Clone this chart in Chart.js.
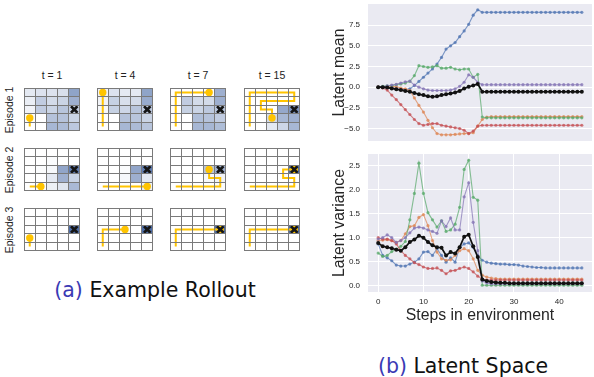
<!DOCTYPE html>
<html><head><meta charset="utf-8">
<script src="https://cdn.jsdelivr.net/npm/chart.js@4.4.1/dist/chart.umd.min.js"></script>
<style>
html,body{margin:0;padding:0;background:#fff;width:594px;height:377px;overflow:hidden;position:relative}
canvas{position:absolute}
.lbl{position:absolute;white-space:nowrap;line-height:1;color:#222;font-family:'Liberation Sans',Arial,sans-serif}
.cap{position:absolute;white-space:nowrap;line-height:1;color:#111;font-family:'DejaVu Sans',sans-serif;font-size:20.5px;transform:translateX(-50%)}
.cap span{color:#3a3ab4}
</style></head><body>
<div class="cap" style="left:155px;top:280px"><span>(a)</span> Example Rollout</div>
<div class="cap" style="left:463px;top:355.5px"><span>(b)</span> Latent Space</div>
<script>
// ---------- data: example rollout ----------
const timeLabels = ['t = 1', 't = 4', 't = 7', 't = 15'];
const episodeLabels = ['Episode 1', 'Episode 2', 'Episode 3'];
// belief intensity per cell (row-major, 5x5, top row first), one list per time step
const ep1Belief = [
  [.15,.2,.2,.22,.63, .12,.35,.25,.3,.55, .08,.35,.3,.4,.35, .02,0,.42,.42,.3, 0,0,.5,.47,.38],
  [.08,.2,.15,.15,.63, .08,.32,.22,.25,.58, .05,.32,.28,.4,.38, 0,0,.42,.4,.3, 0,0,.5,.47,.4],
  [0,0,0,0,.55, 0,.35,.25,.25,.55, 0,.32,.3,.38,.4, 0,0,.45,.42,.35, 0,0,.5,.5,.45],
  [0,0,0,0,0, 0,0,0,0,0, 0,0,0,.6,.75, 0,0,.25,.5,.55, 0,0,.15,.28,.5]
];
const ep2Belief = [
  [0,0,0,0,0, 0,0,.02,0,0, 0,.02,.05,.62,.9, 0,0,.15,.55,.3, 0,0,.1,.18,.48],
  [0,0,0,0,0, 0,0,0,0,0, 0,0,.02,.62,.9, 0,0,.05,.55,.15, 0,0,0,0,.1],
  [0,0,0,0,0, 0,0,0,0,0, 0,0,0,.4,.55, 0,0,0,.05,.08, 0,0,0,0,.03],
  [0,0,0,0,0, 0,0,0,0,0, 0,0,0,0,1, 0,0,0,0,0, 0,0,0,0,0]
];
const ep3Belief = [
  [0,0,0,0,0, 0,0,0,0,0, 0,0,0,0,1, 0,0,0,0,0, 0,0,0,0,0],
  [0,0,0,0,0, 0,0,0,0,0, 0,0,0,0,1, 0,0,0,0,0, 0,0,0,0,0],
  [0,0,0,0,0, 0,0,0,0,0, 0,0,0,0,1, 0,0,0,0,0, 0,0,0,0,0],
  [0,0,0,0,0, 0,0,0,0,0, 0,0,0,0,1, 0,0,0,0,0, 0,0,0,0,0]
];
// agent paths as [column, row] cells, last entry = agent position
const ep1Paths = [
  [[0,4],[0,3]],
  [[0,4],[0,0]],
  [[0,4],[0,0],[3,0]],
  [[0,4],[0,0],[4,0],[4,1],[1,1],[1,2],[2,2],[2,3]]
];
const ep2Paths = [
  [[0,4],[1,4]],
  [[0,4],[4,4]],
  [[0,4],[4,4],[4,3],[3,3],[3,2]],
  [[0,4],[4,4],[4,3],[3,3],[3,2],[4,2]]
];
const ep3Paths = [
  [[0,4],[0,3]],
  [[0,4],[0,2],[2,2]],
  [[0,4],[0,2],[4,2]],
  [[0,4],[0,2],[4,2]]
];
const goalCell = [4, 2];

// ---------- data: latent space ----------
const steps = [0,1,2,3,4,5,6,7,8,9,10,11,12,13,14,15,16,17,18,19,20,21,22,23,24,25,26,27,28,29,30,31,32,33,34,35,36,37,38,39,40,41,42,43,44,45];
const meanTicks = [-5, -2.5, 0, 2.5, 5, 7.5];
const meanTickLabels = ['\u22125.0', '\u22122.5', '0.0', '2.5', '5.0', '7.5'];
const varTicks = [0, 0.5, 1, 1.5, 2, 2.5];
const varTickLabels = ['0.0', '0.5', '1.0', '1.5', '2.0', '2.5'];
const stepTicks = [0, 10, 20, 30, 40];

const meanBlue = [0,0,-0.05,-0.1,-0.15,-0.25,-0.3,-0.2,0.2,0.7,
  1.2,1.7,2.2,2.8,3.6,4.6,5.0,5.4,6.1,6.8,
  7.6,8.7,9.35,9.05,9.05,9.05,9.05,9.05,9.05,9.05,
  9.05,9.05,9.05,9.05,9.05,9.05,9.05,9.05,9.05,9.05,
  9.05,9.05,9.05,9.05,9.05,9.05];
const meanOrange = [0,0,0.05,0.1,0.05,-0.1,-0.2,-0.4,-1.3,-2.2,
  -3.0,-4.0,-4.9,-5.6,-5.75,-5.75,-5.75,-5.7,-5.65,-5.6,
  -5.6,-5.5,-4.7,-3.9,-3.6,-3.55,-3.55,-3.55,-3.55,-3.55,
  -3.55,-3.55,-3.55,-3.55,-3.55,-3.55,-3.55,-3.55,-3.55,-3.55,
  -3.55,-3.55,-3.55,-3.55,-3.55,-3.55];
const meanGreen = [0,0.1,0.15,0.2,0.3,0.4,0.5,0.7,1.4,2.6,
  2.5,2.4,2.45,2.6,2.3,2.3,2.4,2.2,2.1,2.2,
  2.2,1.2,1.55,-3.6,-3.7,-3.7,-3.7,-3.7,-3.7,-3.7,
  -3.7,-3.7,-3.7,-3.7,-3.7,-3.7,-3.7,-3.7,-3.7,-3.7,
  -3.7,-3.7,-3.7,-3.7,-3.7,-3.7];
const meanRed = [0,-0.1,-0.35,-0.95,-1.5,-2.1,-2.7,-3.3,-3.9,-4.4,
  -4.6,-4.5,-4.4,-4.4,-4.6,-4.7,-4.8,-4.9,-5.0,-5.2,
  -5.6,-5.3,-4.7,-4.6,-4.6,-4.6,-4.6,-4.6,-4.6,-4.6,
  -4.6,-4.6,-4.6,-4.6,-4.6,-4.6,-4.6,-4.6,-4.6,-4.6,
  -4.6,-4.6,-4.6,-4.6,-4.6,-4.6];
const meanPurple = [0,0.05,0.15,0.25,0.35,0.5,0.65,0.75,0.25,0,
  -0.2,-0.35,-0.4,-0.4,-0.4,-0.4,-0.35,-0.2,0.1,0.6,
  1.5,1.2,0.6,0.3,0.3,0.3,0.3,0.3,0.3,0.3,
  0.3,0.3,0.3,0.3,0.3,0.3,0.3,0.3,0.3,0.3,
  0.3,0.3,0.3,0.3,0.3,0.3];
const meanBlack = [0,0,-0.05,-0.15,-0.25,-0.35,-0.45,-0.55,-0.7,-0.85,
  -0.95,-1.1,-1.15,-1.1,-0.95,-0.85,-0.75,-0.65,-0.45,-0.15,
  0.05,0.2,0.4,-0.55,-0.55,-0.55,-0.55,-0.55,-0.55,-0.55,
  -0.55,-0.55,-0.55,-0.55,-0.55,-0.55,-0.55,-0.55,-0.55,-0.55,
  -0.55,-0.55,-0.55,-0.55,-0.55,-0.55];

const varBlue = [0.87,0.63,0.58,0.52,0.43,0.41,0.41,0.45,0.49,0.56,
  0.7,0.71,0.63,0.77,0.63,0.49,0.58,0.49,0.8,0.87,
  0.89,0.8,0.63,0.53,0.49,0.47,0.46,0.45,0.45,0.44,
  0.44,0.43,0.41,0.4,0.39,0.38,0.38,0.37,0.37,0.37,
  0.37,0.37,0.37,0.37,0.37,0.37];
const varOrange = [0.94,0.95,0.96,0.94,0.9,0.94,1.08,1.23,1.25,1.42,
  1.48,1.25,0.94,0.7,0.56,0.53,0.54,0.63,0.73,0.77,
  0.73,0.56,0.32,0.22,0.18,0.16,0.15,0.14,0.14,0.14,
  0.14,0.14,0.14,0.14,0.14,0.14,0.14,0.14,0.14,0.14,
  0.14,0.14,0.14,0.14,0.14,0.14];
const varGreen = [0.68,0.61,0.63,0.71,0.76,0.82,0.92,1.37,1.92,2.55,
  1.92,1.52,1.37,1.22,1.35,1.13,1.16,1.28,1.63,2.42,
  2.61,1.84,1.78,0.01,0.01,0.01,0.01,0.01,0.01,0.01,
  0.01,0.01,0.01,0.01,0.01,0.01,0.01,0.01,0.01,0.01,
  0.01,0.01,0.01,0.01,0.01,0.01];
const varRed = [1.0,0.97,0.97,0.94,0.87,0.73,0.63,0.56,0.48,0.44,
  0.39,0.36,0.36,0.37,0.32,0.25,0.31,0.32,0.36,0.39,
  0.36,0.29,0.2,0.14,0.12,0.12,0.12,0.12,0.12,0.12,
  0.12,0.12,0.12,0.12,0.12,0.12,0.12,0.12,0.12,0.12,
  0.12,0.12,0.12,0.12,0.12,0.12];
const varPurple = [0.97,1.0,1.06,1.0,0.9,0.94,1.0,1.1,1.2,1.22,
  1.2,1.16,1.13,1.09,1.35,1.23,1.41,1.16,1.16,1.85,
  2.14,1.32,0.73,0.1,0.06,0.04,0.04,0.04,0.04,0.04,
  0.04,0.04,0.04,0.04,0.04,0.04,0.04,0.04,0.04,0.04,
  0.04,0.04,0.04,0.04,0.04,0.04];
const varBlack = [0.89,0.82,0.8,0.78,0.75,0.73,0.8,0.91,0.96,1.04,
  1.0,0.91,0.84,0.8,0.79,0.63,0.7,0.67,0.8,1.02,
  1.06,0.82,0.6,0.13,0.1,0.08,0.07,0.06,0.06,0.05,
  0.05,0.05,0.05,0.05,0.05,0.05,0.05,0.05,0.05,0.05,
  0.05,0.05,0.05,0.05,0.05,0.05];

// ---------- styles / layout ----------
const GOLD = '#ffc400';
const GRIDLINE = '#7a7a7a';
const colLefts = [18, 91, 164, 238];
const rowTops = [82, 142, 202];
const GW = 68, GH = 55;
const SERIES_COLORS = {blue:'76,114,176', orange:'221,132,82', green:'85,168,104', red:'196,78,82', purple:'129,114,179'};

function mkCanvas(left, top, w, h) {
  const c = document.createElement('canvas');
  c.width = w; c.height = h;
  c.style.left = left + 'px'; c.style.top = top + 'px';
  c.style.width = w + 'px'; c.style.height = h + 'px';
  document.body.appendChild(c);
  return c;
}
function mkLabel(text, left, top, size, rotate) {
  const d = document.createElement('div');
  d.className = 'lbl';
  d.textContent = text;
  d.style.fontSize = size + 'px';
  d.style.left = left + 'px'; d.style.top = top + 'px';
  d.style.transform = rotate ? 'translate(-50%,-50%) rotate(-90deg)' : 'translateX(-50%)';
  document.body.appendChild(d);
}
function cellColor(v) {
  const r = Math.round(255 - 177 * v), g = Math.round(255 - 145 * v), b = Math.round(255 - 87 * v);
  return `rgb(${r},${g},${b})`;
}

function gridChart(canvas, belief, path, goal) {
  const cells = [];
  for (let r = 0; r < 5; r++) for (let c = 0; c < 5; c++) cells.push({x: c + 0.5, y: [r, r + 1]});
  const pathPts = path.map(([c, r]) => ({x: c + 0.5, y: r + 0.5}));
  const agent = pathPts[pathPts.length - 1];
  const axisOpts = (rev) => ({
    type: 'linear', min: 0, max: 5, offset: false, reverse: rev,
    ticks: {display: false, stepSize: 1},
    grid: {color: GRIDLINE, lineWidth: 1, drawTicks: false, offset: false, z: 1},
    border: {color: GRIDLINE, width: 1, z: 1}
  });
  new Chart(canvas, {
    type: 'bar',
    data: {datasets: [
      {type: 'bar', data: cells, backgroundColor: belief.map(cellColor), borderWidth: 0,
       barPercentage: 1, categoryPercentage: 1, order: 3},
      {type: 'line', data: pathPts, borderColor: GOLD, borderWidth: 2, pointRadius: 0,
       tension: 0, fill: false, order: 2},
      {type: 'scatter', data: [agent], backgroundColor: GOLD, borderWidth: 0, pointRadius: 3.7, order: 1},
      {type: 'scatter', data: [{x: goal[0] + 0.5, y: goal[1] + 0.5}], pointStyle: 'crossRot',
       pointRadius: 4.6, borderColor: '#151515', borderWidth: 2.6, order: 0}
    ]},
    options: {
      responsive: false, animation: false, devicePixelRatio: 1,
      layout: {padding: 1},
      plugins: {legend: {display: false}, tooltip: {enabled: false}},
      scales: {x: axisOpts(false), y: axisOpts(true)}
    }
  });
}

const beliefs = [ep1Belief, ep2Belief, ep3Belief];
const paths = [ep1Paths, ep2Paths, ep3Paths];
for (let e = 0; e < 3; e++) {
  for (let t = 0; t < 4; t++) {
    const cv = mkCanvas(colLefts[t] - 1, rowTops[e] - 1, GW + 2, GH + 2);
    gridChart(cv, beliefs[e][t], paths[e][t], goalCell);
  }
  mkLabel(episodeLabels[e], 9, rowTops[e] + GH / 2, 10.5, true);
}
for (let t = 0; t < 4; t++) mkLabel(timeLabels[t], colLefts[t] + GW / 2, 70, 10.5, false);

// ---------- latent space line charts ----------
const plotBg = {
  id: 'plotBg',
  beforeDraw(chart) {
    const {ctx, chartArea: a} = chart;
    ctx.save(); ctx.fillStyle = '#eaeaf2';
    ctx.fillRect(a.left, a.top, a.right - a.left, a.bottom - a.top);
    ctx.restore();
  }
};
function series(values, rgb, order, black) {
  return {
    data: steps.map((s, i) => ({x: s, y: values[i]})),
    borderColor: black ? '#111' : `rgba(${rgb},0.7)`,
    backgroundColor: black ? '#111' : `rgba(${rgb},0.75)`,
    borderWidth: black ? 1.7 : 1.1,
    pointRadius: black ? 2 : 1.6,
    pointBorderWidth: 0,
    tension: 0, fill: false, order: order
  };
}
const tickFont = {family: "'Liberation Sans', Arial, sans-serif", size: 8};
const titleFont = {family: "'Liberation Sans', Arial, sans-serif", size: 15.8};
function lineChart(canvas, sets, yMin, yMax, yTicks, yLabels, yTitle, showX) {
  new Chart(canvas, {
    type: 'line',
    data: {datasets: sets},
    plugins: [plotBg],
    options: {
      responsive: false, animation: false, devicePixelRatio: 1,
      layout: {padding: {top: 3, bottom: showX ? 0 : 3, left: 0, right: 0}},
      plugins: {legend: {display: false}, tooltip: {enabled: false}},
      scales: {
        x: {
          type: 'linear', min: -2.25, max: 47.25, display: showX,
          afterBuildTicks: s => { s.ticks = stepTicks.map(v => ({value: v})); },
          afterFit: s => { if (showX) s.height = 33; s.paddingLeft = 0; s.paddingRight = 0; },
          ticks: {font: tickFont, color: '#262626', padding: 5, maxRotation: 0, autoSkip: false},
          grid: {color: '#ffffff', lineWidth: 1, drawTicks: false},
          border: {display: false},
          title: {display: true, text: 'Steps in environment', font: titleFont, color: '#262626', padding: {top: 0, bottom: 0}}
        },
        y: {
          type: 'linear', min: yMin, max: yMax,
          afterBuildTicks: s => { s.ticks = yTicks.map(v => ({value: v})); },
          afterFit: s => { s.width = 48; s.paddingTop = 0; s.paddingBottom = 0; },
          ticks: {font: tickFont, color: '#262626', padding: 8,
                  callback: (v) => yLabels[yTicks.indexOf(v)]},
          grid: {color: '#ffffff', lineWidth: 1, drawTicks: false},
          border: {display: false},
          title: {display: true, text: yTitle, font: titleFont, color: '#262626', padding: {top: 10, bottom: 0}}
        }
      }
    }
  });
}
const meanSets = [
  series(meanBlack, null, 0, true),
  series(meanPurple, SERIES_COLORS.purple, 1),
  series(meanRed, SERIES_COLORS.red, 2),
  series(meanGreen, SERIES_COLORS.green, 3),
  series(meanOrange, SERIES_COLORS.orange, 4),
  series(meanBlue, SERIES_COLORS.blue, 5)
];
const varSets = [
  series(varBlack, null, 0, true),
  series(varPurple, SERIES_COLORS.purple, 1),
  series(varRed, SERIES_COLORS.red, 2),
  series(varGreen, SERIES_COLORS.green, 3),
  series(varOrange, SERIES_COLORS.orange, 4),
  series(varBlue, SERIES_COLORS.blue, 5)
];
lineChart(mkCanvas(320, 0, 276, 145), meanSets, -6.5, 10.05, meanTicks, meanTickLabels, 'Latent mean', false);
lineChart(mkCanvas(320, 150, 276, 175), varSets, -0.13, 2.74, varTicks, varTickLabels, 'Latent variance', true);
</script>
</body></html>
